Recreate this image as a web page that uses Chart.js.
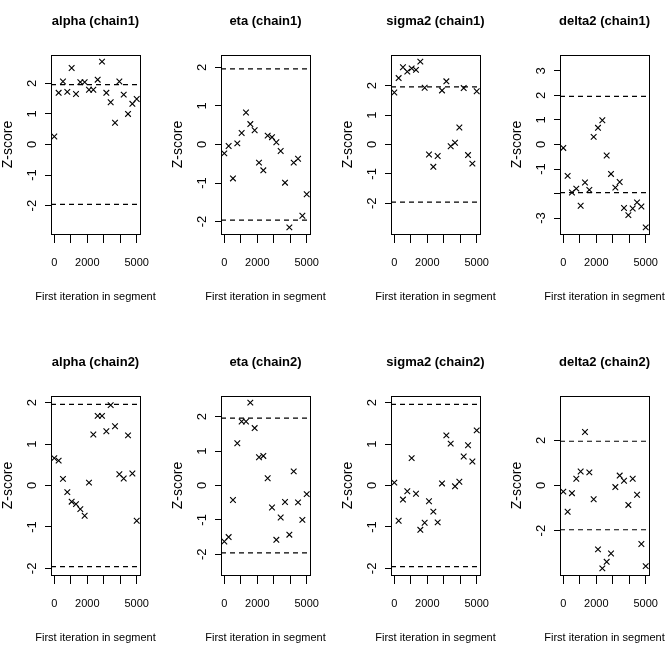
<!DOCTYPE html>
<html>
<head>
<meta charset="utf-8">
<script src="https://cdn.jsdelivr.net/npm/chart.js@4/dist/chart.umd.min.js"></script>
<style>
  html, body { margin: 0; padding: 0; background: #fff; overflow: hidden; }
  #page { position: relative; width: 667px; height: 647px; overflow: hidden; background: #fff; }
  #page canvas { position: absolute; }
</style>
</head>
<body>
<div id="page"></div>
<script>
// premiere iteration de chaque segment (20 segments)
const segStart = [0, 263, 526, 789, 1053, 1316, 1579, 1842, 2105, 2368, 2632, 2895, 3158, 3421, 3684, 3947, 4211, 4474, 4737, 5000];

// z-scores de Geweke
const alphaC1  = [0.26, 1.69, 2.06, 1.72, 2.50, 1.65, 2.04, 2.04, 1.79, 1.79, 2.12, 2.71, 1.69, 1.38, 0.71, 2.06, 1.63, 1.00, 1.33, 1.49];
const etaC1    = [-0.23, -0.04, -0.88, 0.03, 0.30, 0.83, 0.53, 0.37, -0.47, -0.67, 0.23, 0.19, 0.06, -0.17, -0.99, -2.15, -0.47, -0.37, -1.85, -1.29];
const sigma2C1 = [1.77, 2.26, 2.63, 2.48, 2.59, 2.54, 2.82, 1.93, -0.34, -0.76, -0.39, 1.84, 2.15, -0.06, 0.06, 0.58, 1.92, -0.36, -0.65, 1.81];
const delta2C1 = [-0.14, -1.28, -1.96, -1.80, -2.50, -1.55, -1.85, 0.31, 0.68, 0.99, -0.45, -1.20, -1.76, -1.53, -2.59, -2.88, -2.61, -2.36, -2.53, -3.38];
const alphaC2  = [0.66, 0.60, 0.16, -0.16, -0.39, -0.45, -0.57, -0.73, 0.07, 1.23, 1.68, 1.68, 1.31, 1.94, 1.43, 0.27, 0.17, 1.21, 0.29, -0.85];
const etaC2    = [-1.63, -1.50, -0.42, 1.23, 1.86, 1.86, 2.41, 1.67, 0.82, 0.86, 0.21, -0.64, -1.58, -0.93, -0.48, -1.43, 0.41, -0.49, -1.00, -0.25];
const sigma2C2 = [0.07, -0.85, -0.34, -0.14, 0.66, -0.20, -1.07, -0.90, -0.38, -0.63, -0.89, 0.05, 1.21, 1.01, -0.02, 0.09, 0.70, 0.97, 0.58, 1.33];
const delta2C2 = [-0.27, -1.16, -0.34, 0.30, 0.62, 2.37, 0.58, -0.61, -2.83, -3.67, -3.38, -3.01, -0.07, 0.44, 0.21, -0.86, 0.30, -0.41, -2.59, -3.57];

const titres = ["alpha (chain1)", "eta (chain1)", "sigma2 (chain1)", "delta2 (chain1)",
                "alpha (chain2)", "eta (chain2)", "sigma2 (chain2)", "delta2 (chain2)"];

// graduations
const xTicks = [0, 1000, 2000, 3000, 4000, 5000];
const xLabels = ["0", "", "2000", "", "", "5000"];
const yTicksStd = [-2, -1, 0, 1, 2];
const yLabelsStd = ["-2", "-1", "0", "1", "2"];
const yTicksD1 = [-3, -2, -1, 0, 1, 2, 3];
const yLabelsD1 = ["-3", "", "-1", "0", "1", "2", "3"];
const yTicksD2 = [-2, 0, 2];
const yLabelsD2 = ["-2", "0", "2"];

const zCrit = 1.96;

const police = "'Liberation Sans', Arial, Helvetica, sans-serif";
const page = document.getElementById("page");
const colX = [0, 170, 340, 509];
const ligneY = [0, 341];

// cadre noir autour de la zone de trace (box() de R)
const cadre = {
  id: 'cadre',
  afterDraw(chart) {
    const a = chart.chartArea;
    const ctx = chart.ctx;
    ctx.save();
    ctx.strokeStyle = '#000';
    ctx.lineWidth = 1;
    ctx.strokeRect(Math.round(a.left) + 0.5, Math.round(a.top) + 0.5,
                   Math.round(a.right - a.left), Math.round(a.bottom - a.top));
    ctx.restore();
  }
};

function ligneSeuil(y, xMin, xMax) {
  return {
    type: 'line',
    data: [{x: xMin, y: y}, {x: xMax, y: y}],
    borderColor: '#000',
    borderWidth: 1.2,
    borderDash: [5, 4],
    pointRadius: 0,
    fill: false
  };
}

function dessinerPanneau(col, ligne, titre, z, ticksY, labelsY) {
  // canvas symetrique autour de la zone de trace -> titres centres dessus
  const canvas = document.createElement('canvas');
  canvas.width = 191;
  canvas.height = 304;
  canvas.style.left = colX[col] + 'px';
  canvas.style.top = ligneY[ligne] + 'px';
  page.appendChild(canvas);

  const span = segStart[segStart.length - 1] - segStart[0];
  const xMin = segStart[0] - 0.04 * span;
  const xMax = segStart[segStart.length - 1] + 0.04 * span;
  const lim = Math.max(2, ...z.map(Math.abs)) * 1.08;

  new Chart(canvas.getContext('2d'), {
    type: 'scatter',
    data: {
      datasets: [
        {
          data: segStart.map((x, k) => ({x: x, y: z[k]})),
          pointStyle: 'crossRot',
          pointRadius: 4,
          borderColor: '#000',
          backgroundColor: '#000',
          borderWidth: 1.1
        },
        ligneSeuil(zCrit, xMin, xMax),
        ligneSeuil(-zCrit, xMin, xMax)
      ]
    },
    options: {
      responsive: false,
      animation: false,
      devicePixelRatio: 1,
      events: [],
      layout: { padding: 0 },
      plugins: {
        legend: { display: false },
        tooltip: { enabled: false },
        title: {
          display: true,
          text: titre,
          color: '#000',
          font: { family: police, size: 13, weight: 'bold' },
          padding: { top: 14, bottom: 25.4 }
        },
        subtitle: {
          display: true,
          position: 'bottom',
          text: 'First iteration in segment',
          color: '#000',
          font: { family: police, size: 11 },
          padding: { top: 0, bottom: 0 }
        }
      },
      scales: {
        x: {
          type: 'linear',
          min: xMin,
          max: xMax,
          afterBuildTicks: s => { s.ticks = xTicks.map(v => ({value: v})); },
          afterFit: s => { s.height = 56.8; },
          border: { display: false },
          grid: { display: true, drawOnChartArea: false, drawTicks: true, tickLength: 9, color: '#000', lineWidth: 1 },
          ticks: {
            autoSkip: false, minRotation: 0, maxRotation: 0, padding: 13,
            color: '#000', font: { family: police, size: 11 },
            callback: (v, i) => xLabels[i]
          }
        },
        y: {
          type: 'linear',
          min: -lim,
          max: lim,
          afterBuildTicks: s => { s.ticks = ticksY.map(v => ({value: v})); },
          afterFit: s => { s.width = 51; },
          border: { display: false },
          grid: { display: true, drawOnChartArea: false, drawTicks: true, tickLength: 6, color: '#000', lineWidth: 1 },
          ticks: {
            autoSkip: false, minRotation: 90, maxRotation: 90, crossAlign: 'center', padding: 7,
            color: '#000', font: { family: police, size: 13 },
            callback: (v, i) => labelsY[i]
          },
          title: {
            display: true, text: 'Z-score', color: '#000',
            font: { family: police, size: 14 }, padding: { top: 0, bottom: 0 }
          }
        },
        // marge droite vide, meme largeur que l'axe gauche
        marge: {
          type: 'linear',
          position: 'right',
          afterFit: s => { s.width = 51; },
          border: { display: false },
          grid: { display: false },
          ticks: { display: false }
        }
      }
    },
    plugins: [cadre]
  });
}

dessinerPanneau(0, 0, titres[0], alphaC1, yTicksStd, yLabelsStd);
dessinerPanneau(1, 0, titres[1], etaC1, yTicksStd, yLabelsStd);
dessinerPanneau(2, 0, titres[2], sigma2C1, yTicksStd, yLabelsStd);
dessinerPanneau(3, 0, titres[3], delta2C1, yTicksD1, yLabelsD1);
dessinerPanneau(0, 1, titres[4], alphaC2, yTicksStd, yLabelsStd);
dessinerPanneau(1, 1, titres[5], etaC2, yTicksStd, yLabelsStd);
dessinerPanneau(2, 1, titres[6], sigma2C2, yTicksStd, yLabelsStd);
dessinerPanneau(3, 1, titres[7], delta2C2, yTicksD2, yLabelsD2);
</script>
</body>
</html>
